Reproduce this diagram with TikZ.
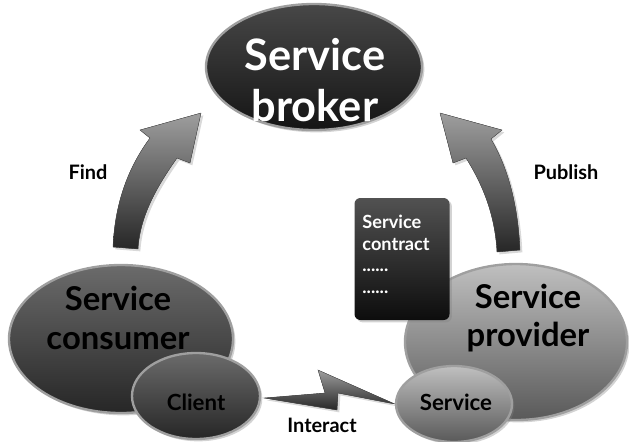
\documentclass[tikz,border=0pt]{standalone}
\usepackage{fontspec}
\setmainfont{Lato}
\usetikzlibrary{shapes.geometric, shadows, calc, backgrounds}

\begin{document}
\begin{tikzpicture}[
    x=0.03cm, y=-0.03cm,
    bubble/.style={ellipse, inner sep=0pt, draw=gray!75, line width=2pt,
      drop shadow={shadow xshift=2pt, shadow yshift=-2pt, opacity=.35}},
    darkbubble/.style={bubble, top color=black!72, bottom color=black!92},
    midbubble/.style={bubble, top color=black!58, bottom color=black!85},
    lightbubble/.style={bubble, top color=black!25, bottom color=black!65},
    bigtxt/.style={font=\bfseries\fontsize{37}{44}\selectfont, align=center},
    midtxt/.style={font=\bfseries\fontsize{28}{33}\selectfont, align=center},
    smalltxt/.style={font=\bfseries\fontsize{19}{20}\selectfont},
    lbl/.style={font=\bfseries\fontsize{17}{18}\selectfont},
    blockarrow/.style={top color=black!38, bottom color=black!85, draw=black!70, line width=0.3pt,
      drop shadow={shadow xshift=2pt, shadow yshift=-2pt, opacity=.3}}
]
    \useasboundingbox (0,0) rectangle (629,441);

    % Broker
    \node[darkbubble, minimum width=6.48cm, minimum height=3.78cm] (broker) at (314,67) {};
    \node[bigtxt, text=white] (brokertxt) at (315,80) {Service\\broker};

    % Find / Publish arrows
    \fill[blockarrow] (113,247) .. controls (115,200) and (130,165) .. (150,138) -- (140,130)
        -- (201,113) -- (190,163) -- (177,158) .. controls (158,185) and (140,215) .. (138,249) -- cycle;
    \fill[blockarrow] (520,250) .. controls (518,205) and (508,168) .. (491,139) -- (502,130)
        -- (440,113) -- (453,163) -- (466,158) .. controls (483,185) and (495,215) .. (497,252) -- cycle;
    \node[lbl] (find) at (88,172) {Find};
    \node[lbl] (publish) at (566,172) {Publish};

    % Consumer side
    \node[midbubble, minimum width=6.72cm, minimum height=4.44cm] (consumer) at (121,339) {};
    \node[midtxt] (consumertxt) at (118,318) {Service\\consumer};
    \node[midbubble, minimum width=3.84cm, minimum height=2.58cm] (client) at (196,396) {};
    \node[smalltxt] (clienttxt) at (196,402) {Client};

    % Provider side
    \node[lightbubble, minimum width=6.66cm, minimum height=4.68cm] (provider) at (516,342) {};
    \node[midtxt] (providertxt) at (528,318) {Service\\provider};
    \node[rectangle, rounded corners=5pt, top color=black!68, bottom color=black!95,
      minimum width=2.85cm, minimum height=3.66cm,
      drop shadow={shadow xshift=2pt, shadow yshift=-2pt, opacity=.35}] (contract) at (402,259) {};
    \node[lbl, text=white, anchor=north west, align=left, font=\bfseries\fontsize{15.5}{18.5}\selectfont]
      (contracttxt) at ($(contract.north west)+(4,13)$) {Service\\contract\\......\\......};
    \node[lightbubble, minimum width=3.48cm, minimum height=2.28cm] (service) at (454,404) {};
    \node[smalltxt] (servicetxt) at (456,402) {Service};

    % Interact bolt
    \begin{scope}[on background layer]
        \fill[blockarrow] ($(client.east)+(3,2)$) -- (325,393) -- (318,370) -- (service.west)
            -- (338,393) -- (337,410) -- cycle;
    \end{scope}
    \node[lbl] (interact) at (322,425) {Interact};

\end{tikzpicture}
\end{document}
